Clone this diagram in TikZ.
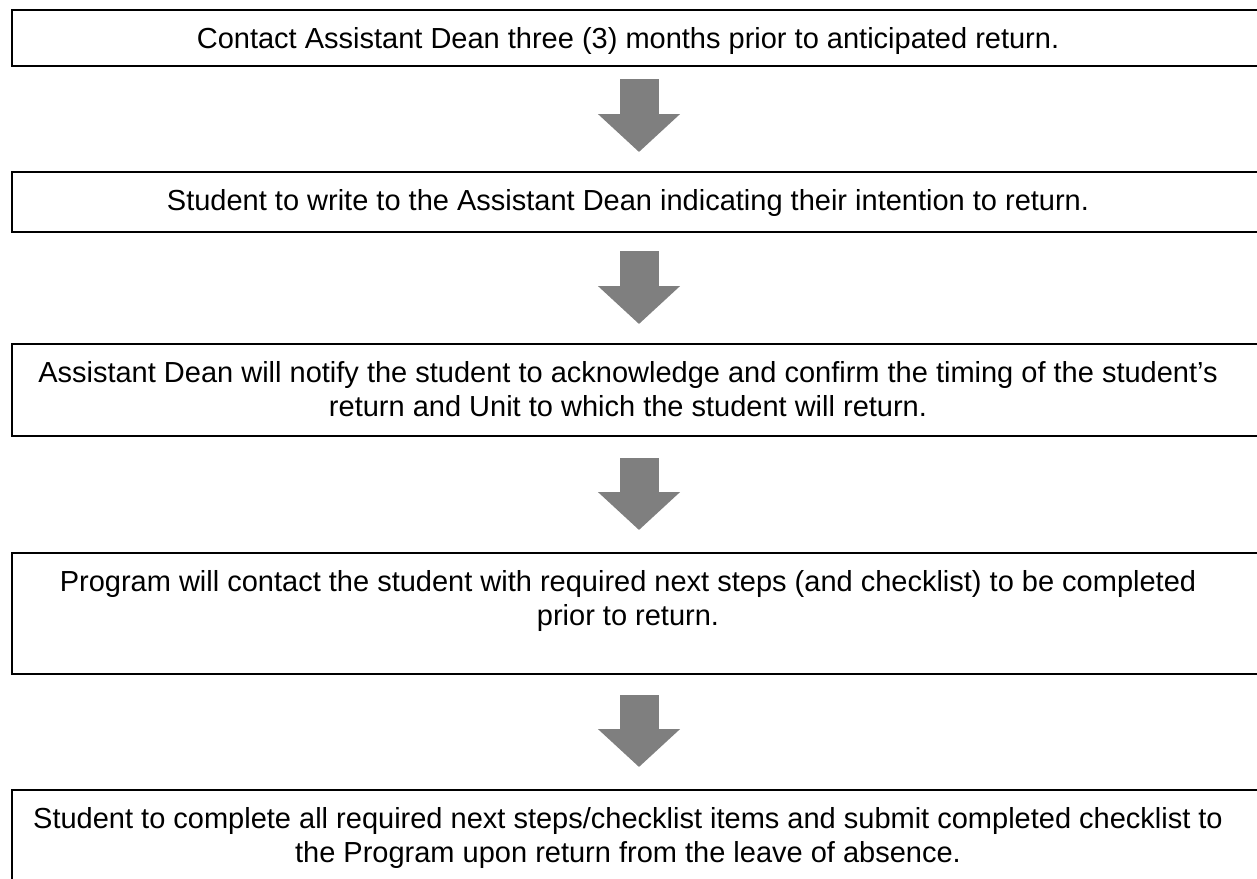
\documentclass[tikz,border=0pt]{standalone}
\usepackage{fontspec}
\setmainfont{Liberation Sans}
\usetikzlibrary{arrows.meta,calc}
\definecolor{gris}{HTML}{7F7F7F}

\begin{document}
\begin{tikzpicture}[x=0.5pt,y=-0.5pt,
  caja/.style={draw,line width=1pt,inner sep=0pt,minimum width=627pt,anchor=north west},
  texto/.style={inner sep=0pt,anchor=base,align=center,font=\fontsize{14.5}{17}\selectfont},
  flecha/.style={draw=gris,line width=19.5pt,-{Triangle[width=40pt,length=19pt]}}]
\clip (0,0) rectangle (1257,878);

% Cajas
\node[caja,minimum height=28pt] (b1) at (11,9) {};
\node[caja,minimum height=30pt] (b2) at (11,171) {};
\node[caja,minimum height=46pt] (b3) at (11,343) {};
\node[caja,minimum height=60.5pt] (b4) at (11,552) {};
\node[caja,minimum height=60pt] (b5) at (11,789) {};

% Textos (base = ultima linea)
\node[texto] (t1) at (628,48) {Contact Assistant Dean three (3) months prior to anticipated return.};
\node[texto] (t2) at (628,210) {Student to write to the Assistant Dean indicating their intention to return.};
\node[texto] (t3) at (628,416) {Assistant Dean will notify the student to acknowledge and confirm the timing of the student’s\\
  return and Unit to which the student will return.};
\node[texto] (t4) at (628,625) {Program will contact the student with required next steps (and checklist) to be completed\\
  prior to return.};
\node[texto] (t5) at (628,862) {Student to complete all required next steps/checklist items and submit completed checklist to\\
  the Program upon return from the leave of absence.};

% Flechas
\draw[flecha] ($(b1.south)+(0,12)$) -- ($(b2.north)+(0,-19)$);
\draw[flecha] ($(b2.south)+(0,18)$) -- ($(b3.north)+(0,-19)$);
\draw[flecha] ($(b3.south)+(0,21)$) -- ($(b4.north)+(0,-22)$);
\draw[flecha] ($(b4.south)+(0,20)$) -- ($(b5.north)+(0,-22)$);
\end{tikzpicture}
\end{document}
